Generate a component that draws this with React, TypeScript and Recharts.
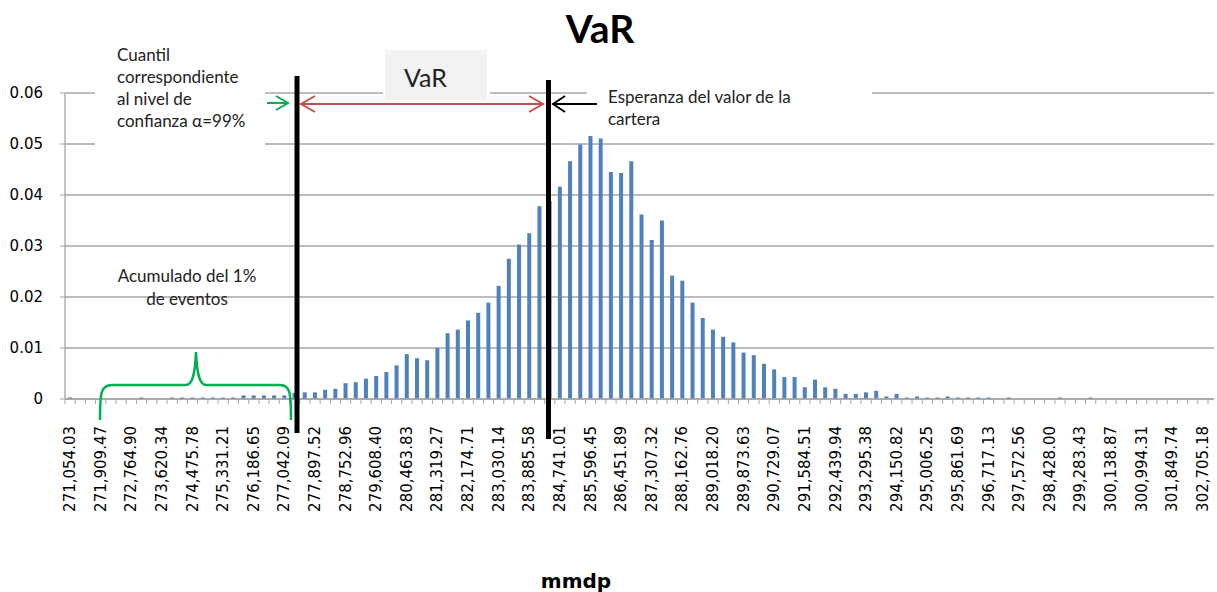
import React from "react";
import { BarChart, Bar, XAxis, YAxis, CartesianGrid } from "recharts";

// frequency of each bin
const freq = [
  0.0003, 0, 0, 0, 0, 0, 0, 0.0003, 0, 0,
  0.0003, 0.0003, 0.0003, 0.0003, 0.0003, 0.0003, 0.0003, 0.0007, 0.0007, 0.0007,
  0.0007, 0.0007, 0.0012, 0.0013, 0.0013, 0.0018, 0.002, 0.0031, 0.0033, 0.004,
  0.0045, 0.0053, 0.0066, 0.0088, 0.008, 0.0076, 0.01, 0.0129, 0.0136, 0.0154,
  0.0169, 0.0189, 0.0222, 0.0275, 0.0303, 0.0325, 0.0378, 0.0388, 0.0416, 0.0466,
  0.0499, 0.0518, 0.0511, 0.0445, 0.0443, 0.0466, 0.0362, 0.0312, 0.035, 0.0242,
  0.0232, 0.0189, 0.0159, 0.0136, 0.0122, 0.0111, 0.0091, 0.0086, 0.0069, 0.0058,
  0.0043, 0.0043, 0.0023, 0.0038, 0.0023, 0.002, 0.001, 0.001, 0.0013, 0.0016,
  0.0005, 0.001, 0.0003, 0.0005, 0.0003, 0.0003, 0.0005, 0.0003, 0.0003, 0.0003,
  0.0003, 0, 0.0003, 0, 0, 0, 0, 0.0003, 0, 0,
  0.0003, 0, 0, 0, 0, 0, 0, 0, 0, 0,
  0, 0,
];

// every third bin carries a label
const binLabels = [
  "271,054.03", "271,909.47", "272,764.90", "273,620.34", "274,475.78",
  "275,331.21", "276,186.65", "277,042.09", "277,897.52", "278,752.96",
  "279,608.40", "280,463.83", "281,319.27", "282,174.71", "283,030.14",
  "283,885.58", "284,741.01", "285,596.45", "286,451.89", "287,307.32",
  "288,162.76", "289,018.20", "289,873.63", "290,729.07", "291,584.51",
  "292,439.94", "293,295.38", "294,150.82", "295,006.25", "295,861.69",
  "296,717.13", "297,572.56", "298,428.00", "299,283.43", "300,138.87",
  "300,994.31", "301,849.74", "302,705.18",
];

const yTicks = [0, 0.01, 0.02, 0.03, 0.04, 0.05, 0.06];

const data = freq.map((p, i) => ({ bin: i, p }));

const GREY = "#a6a6a6";
const BLUE = "#4f81bd";
const NOTE_FONT = "Lato, 'Liberation Sans', sans-serif";

const BinTick = (props: any) => {
  const { x, y, payload } = props;
  const i = payload.index ?? props.index;
  const half = payload.offset ?? 5.1;
  const label = i % 3 === 0 ? binLabels[i / 3] : null;
  return (
    <g>
      <line x1={x - half} x2={x - half} y1={y} y2={y + 5} stroke={GREY} />
      {i === freq.length - 1 && (
        <line x1={x + half} x2={x + half} y1={y} y2={y + 5} stroke={GREY} />
      )}
      {label && (
        <text
          transform={`translate(${x},${y + 27}) rotate(-90)`}
          textAnchor="end"
          dominantBaseline="central"
          fontFamily="'DejaVu Sans', sans-serif"
          fontSize={15}
          fill="#000"
        >
          {label}
        </text>
      )}
    </g>
  );
};

const Notes = () => (
  <svg
    width={1217}
    height={592}
    style={{ position: "absolute", left: 0, top: 0, pointerEvents: "none" }}
  >
    <text x={600} y={43} textAnchor="middle" fontFamily="Lato, sans-serif" fontWeight="bold" fontSize={39} fill="#000">
      VaR
    </text>

    {/* text boxes */}
    <rect x={95} y={38} width={170} height={112} fill="#fff" />
    <text fontFamily={NOTE_FONT} fontSize={17} fill="#222">
      <tspan x={117} y={61}>Cuantil</tspan>
      <tspan x={117} y={83}>correspondiente</tspan>
      <tspan x={117} y={105}>al nivel de</tspan>
      <tspan x={117} y={127}>confianza α=99%</tspan>
    </text>

    <rect x={383} y={48} width={107} height={54} fill="#fff" />
    <rect x={385} y={50} width={102} height={50} fill="#f2f2f2" />
    <text x={404} y={87} fontFamily={NOTE_FONT} fontSize={25} fill="#222">
      VaR
    </text>

    <rect x={587} y={78} width={285} height={58} fill="#fff" />
    <text fontFamily={NOTE_FONT} fontSize={17} fill="#222">
      <tspan x={608} y={103}>Esperanza del valor de la</tspan>
      <tspan x={608} y={125}>cartera</tspan>
    </text>

    <text textAnchor="middle" fontFamily={NOTE_FONT} fontSize={17} fill="#222">
      <tspan x={187} y={282}>Acumulado del 1%</tspan>
      <tspan x={187} y={305}>de eventos</tspan>
    </text>

    {/* brace */}
    <path
      d="M100,420 C100,392 101,385 112,385 L186,385 C192,385 195,376 196,352 C197,376 200,385 206,385 L280,385 C290,385 291,392 291,420"
      fill="none"
      stroke="#00b050"
      strokeWidth={2.5}
    />

    {/* vertical markers */}
    <rect x={294.5} y={76} width={5} height={357} fill="#000" />
    <rect x={546} y={80} width={5} height={359} fill="#000" />

    {/* arrows */}
    <g fill="none" strokeWidth={2}>
      <g stroke="#c0504d">
        <line x1={301} y1={104} x2={543} y2={104} />
        <polyline points="315,96 301,104 315,112" />
        <polyline points="529,96 543,104 529,112" />
      </g>
      <g stroke="#00b050">
        <line x1={267} y1={103} x2={288} y2={103} />
        <polyline points="276,96 288,103 276,110" />
      </g>
      <g stroke="#000">
        <line x1={553} y1={104} x2={597} y2={104} />
        <polyline points="565,96 553,104 565,112" />
      </g>
    </g>

    <text x={576} y={588} textAnchor="middle" fontFamily="'DejaVu Sans', sans-serif" fontWeight="bold" fontSize={20} fill="#000">
      mmdp
    </text>
  </svg>
);

export default function App() {
  return (
    <div style={{ position: "absolute", left: 0, top: 0, width: 1217, height: 592, background: "#fff" }}>
      <BarChart
        width={1217}
        height={592}
        data={data}
        margin={{ top: 93, right: 3, bottom: 0, left: 0 }}
        barCategoryGap={0}
      >
        <CartesianGrid vertical={false} stroke={GREY} strokeWidth={1.3} />
        <XAxis
          dataKey="bin"
          type="category"
          interval={0}
          height={193}
          padding={{ left: 0, right: 6 }}
          tickLine={false}
          tickSize={0}
          tickMargin={0}
          axisLine={{ stroke: GREY, strokeWidth: 1.3 }}
          tick={(p: any) => <BinTick {...p} />}
        />
        <YAxis
          width={65}
          domain={[0, 0.06]}
          ticks={yTicks}
          interval={0}
          tickFormatter={(v: number) => (v === 0 ? "0" : v.toFixed(2))}
          tick={{ fontFamily: "'DejaVu Sans', sans-serif", fontSize: 15, fill: "#000" }}
          tickSize={5}
          tickMargin={17}
          tickLine={{ stroke: GREY }}
          axisLine={{ stroke: GREY, strokeWidth: 1.3 }}
        />
        <Bar dataKey="p" fill={BLUE} barSize={4} isAnimationActive={false} />
      </BarChart>
      <Notes />
    </div>
  );
}
